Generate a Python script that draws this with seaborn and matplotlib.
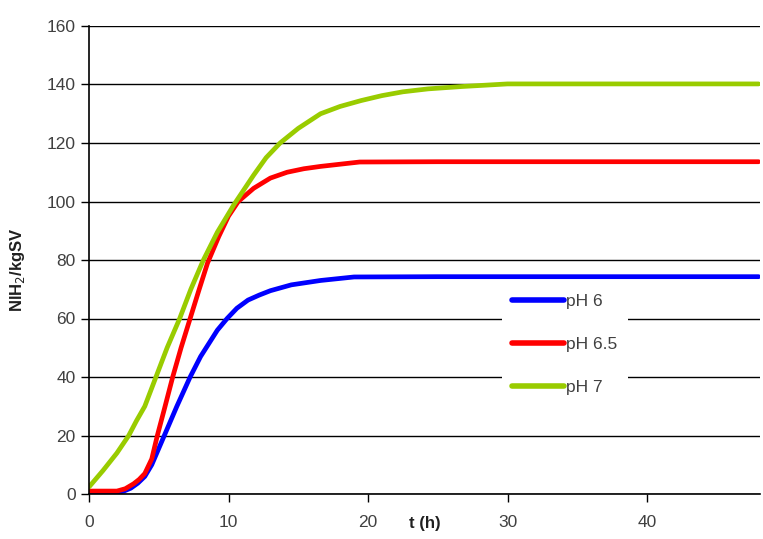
import matplotlib
matplotlib.use("Agg")
import matplotlib.pyplot as plt
import seaborn as sns
import pandas as pd

t_ph6 = [0, 2, 2.5, 3, 3.5, 4, 4.5, 4.95, 5.4, 6.3, 7.25, 8.0, 8.6, 9.2, 9.9, 10.6, 11.4, 12.2, 13, 14.5, 16.6, 19, 25, 48]
y_ph6 = [0.5, 0.5, 1, 2, 3.7, 6, 10, 15, 20, 30, 40, 47, 51.5, 56, 60, 63.5, 66.3, 68, 69.5, 71.5, 73, 74.2, 74.3, 74.3]

t_ph65 = [0, 2, 2.6, 3.2, 3.6, 4.0, 4.5, 4.9, 5.4, 6.0, 6.6, 7.25, 7.9, 8.5, 9.3, 10.0, 10.7, 11.8, 13, 14.2, 15.4, 16.6, 19.4, 25, 48]
y_ph65 = [1, 1, 1.8, 3.5, 5, 7, 12, 20, 29, 40, 50, 60, 70, 79, 88, 95, 100, 104.5, 108, 110, 111.2, 112, 113.5, 113.6, 113.6]

t_ph7 = [0, 1, 2, 2.85, 3.4, 4, 4.8, 5.6, 6.5, 7.3, 8.2, 9.2, 10.4, 11.8, 12.7, 13.7, 15, 16.6, 18, 19.5, 21, 22.5, 24.3, 26.7, 30, 48]
y_ph7 = [2.4, 8, 14, 20, 25, 30, 40, 50, 60, 70, 80, 89.5, 99, 109, 115, 120, 125, 130, 132.5, 134.5, 136.2, 137.5, 138.5, 139.3, 140.2, 140.2]

series_names = ["pH 6", "pH 6.5", "pH 7"]
colors = ["#0000FF", "#FF0000", "#99CC00"]

frames = []
for name, tt, yy in zip(series_names, [t_ph6, t_ph65, t_ph7], [y_ph6, y_ph65, y_ph7]):
    frames.append(pd.DataFrame({"t": tt, "y": yy, "series": name}))
df = pd.concat(frames, ignore_index=True)

sns.set_style("white")
plt.rcParams["font.family"] = ["Liberation Sans", "DejaVu Sans"]

fig = plt.figure(figsize=(7.63, 5.39), dpi=100)
ax = fig.add_axes([89 / 763, 1 - 494 / 539, (760 - 89) / 763, (494 - 26) / 539])

sns.lineplot(data=df, x="t", y="y", hue="series", palette=colors,
             hue_order=series_names, linewidth=3.4, ax=ax, sort=True)
for ln in ax.get_lines():
    ln.set_solid_capstyle("round")
    ln.set_solid_joinstyle("round")

ax.set_xlim(0, 48.1)
ax.set_ylim(0, 160)
ax.set_xticks([0, 10, 20, 30, 40])
ax.set_yticks(range(0, 161, 20))
ax.yaxis.grid(True, color="black", linewidth=1)
ax.xaxis.grid(False)
for s in ["top", "right"]:
    ax.spines[s].set_visible(False)
for s in ["left", "bottom"]:
    ax.spines[s].set_color("black")
    ax.spines[s].set_linewidth(1.2)
ax.tick_params(axis="both", which="both", direction="out", length=6, width=1,
               color="black", labelsize=12.5, labelcolor="#404040", left=True, bottom=True)
ax.tick_params(axis="x", pad=9)
ax.set_axisbelow(True)

ax.set_xlabel("t (h)", fontsize=12, fontweight="bold", color="#202020")
ax.xaxis.set_label_coords(0.5, -0.047)
ax.set_ylabel("NlH$_2$/kgSV", fontsize=12, fontweight="bold", color="#202020")
ax.yaxis.set_label_coords(-0.092, 0.48)

leg = ax.legend(loc="upper left", bbox_to_anchor=(0.615, 0.45), frameon=True,
                facecolor="white", edgecolor="none", framealpha=1, fontsize=12.5,
                handlelength=3.0, labelspacing=1.6, handletextpad=0.1,
                borderpad=0.6, fancybox=False, borderaxespad=0)
for line in leg.get_lines():
    line.set_linewidth(4)
for txt in leg.get_texts():
    txt.set_color("#404040")

fig.savefig("out.png", dpi=100)
